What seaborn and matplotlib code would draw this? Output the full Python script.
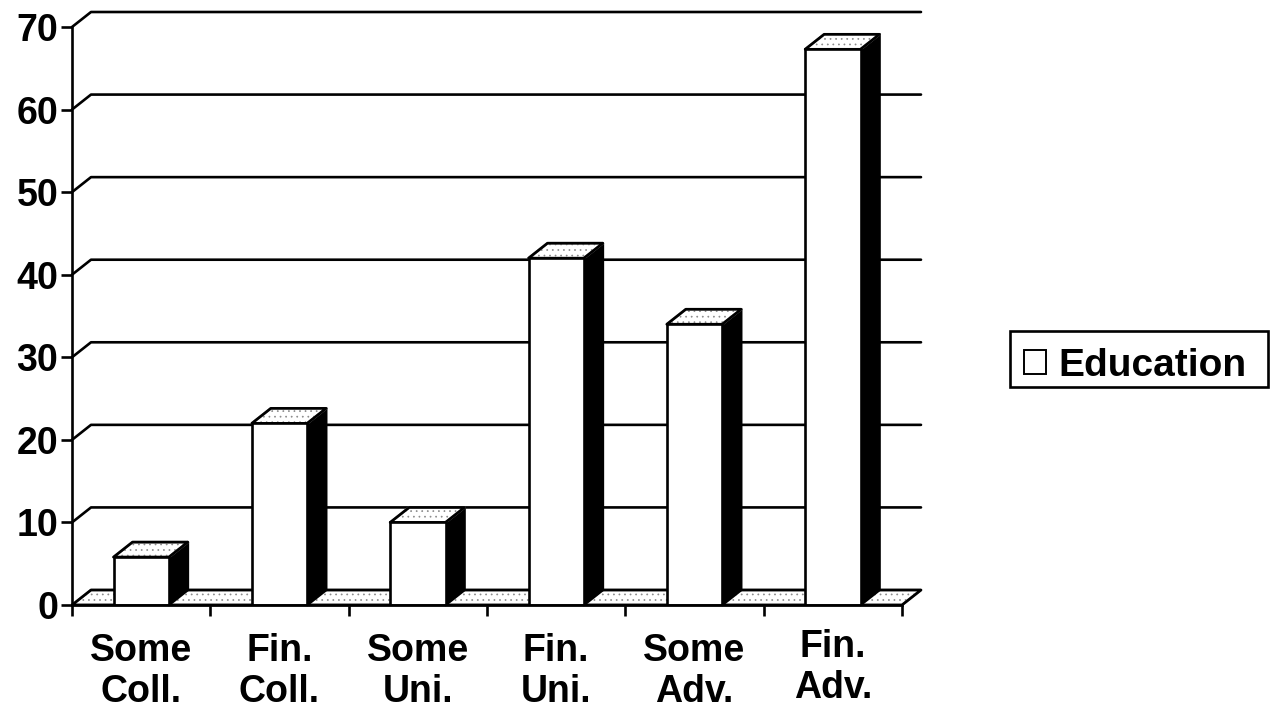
import matplotlib
matplotlib.use("Agg")
import matplotlib.pyplot as plt
import matplotlib.transforms as mtrans
from matplotlib.patches import Patch, Polygon, Rectangle
import pandas
import seaborn

CATEGORIES = ["Some\nColl.", "Fin.\nColl.", "Some\nUni.", "Fin.\nUni.", "Some\nAdv.", "Fin.\nAdv."]
VALUES = [5.8, 22, 10, 42, 34, 67.3]
Y_TICKS = [0, 10, 20, 30, 40, 50, 60, 70]
SERIES = "Education"

# 3d look of the old spreadsheet chart, depth in pixels
DEPTH_X = 19
DEPTH_Y = 15
LW = 1.9
W, H = 1274, 713

seaborn.set_style("white")
plt.rcParams["font.family"] = ["Liberation Sans", "DejaVu Sans"]
plt.rcParams["font.weight"] = "bold"
plt.rcParams["text.color"] = "black"
plt.rcParams["xtick.labelcolor"] = "black"
plt.rcParams["ytick.labelcolor"] = "black"
plt.rcParams["hatch.linewidth"] = 0.5

fig = plt.figure(figsize=(W / 100, H / 100), dpi=100)
ax = fig.add_axes([72 / W, 1 - 605 / H, (902 - 72) / W, (605 - 27) / H])

df = pandas.DataFrame({"group": CATEGORIES, "value": VALUES})
seaborn.barplot(df, x="group", y="value", color="white", saturation=1, width=0.4,
                edgecolor="black", linewidth=LW, errorbar=None, ax=ax, zorder=5)
ax.set_xlim(-0.5, 5.5)
ax.set_ylim(0, 70)

# pixels to data units for the depth offset
dx = DEPTH_X * 6 / (902 - 72)
dy = DEPTH_Y * 70 / (605 - 27)


def add_poly(points, face, z, hatch=None, edge="black"):
    ax.add_patch(Polygon(points, closed=True, facecolor=face, edgecolor=edge,
                         linewidth=LW, hatch=hatch, zorder=z, clip_on=False, joinstyle="round"))


# floor, speckle is grey so it stays light, outline drawn on top
floor = [(-0.5, 0), (5.5, 0), (5.5 + dx, dy), (-0.5 + dx, dy)]
add_poly(floor, "white", 1, "...", "#8a8a8a")
add_poly(floor, "none", 1.1)

# back wall lines
for v in Y_TICKS[1:]:
    ax.plot([-0.5, -0.5 + dx, 5.5 + dx], [v, v + dy, v + dy], color="black", lw=LW,
            zorder=2, clip_on=False, solid_joinstyle="round")

# bar tops and sides
for bar in ax.patches[:len(VALUES)]:
    x0, x1 = bar.get_x(), bar.get_x() + bar.get_width()
    h = bar.get_height()
    top = [(x0, h), (x1, h), (x1 + dx, h + dy), (x0 + dx, h + dy)]
    add_poly([(x1, 0), (x1 + dx, dy), (x1 + dx, h + dy), (x1, h)], "black", 4)
    add_poly(top, "white", 4, "...", "#8a8a8a")
    add_poly(top, "none", 4.1)

seaborn.despine(ax=ax, top=True, right=True)
for side in ["left", "bottom"]:
    ax.spines[side].set_linewidth(LW)
    ax.spines[side].set_color("black")
    ax.spines[side].set_zorder(6)

ax.set_xlabel("")
ax.set_ylabel("")
ax.set_yticks(Y_TICKS)
ax.set_xticks([i - 0.5 for i in range(len(CATEGORIES) + 1)], minor=True)
ax.set_xticks(range(len(CATEGORIES)), CATEGORIES)
ax.tick_params(axis="x", which="major", length=0, pad=20, labelsize=27)
ax.tick_params(axis="x", which="minor", length=8, width=LW, color="black", bottom=True)
ax.tick_params(axis="y", length=8, width=LW, color="black", left=True, pad=2, labelsize=27)
for label in ax.get_xticklabels():
    label.set_linespacing(1.2)
# last label sits a little higher in the original
last = ax.get_xticklabels()[-1]
last.set_transform(last.get_transform() + mtrans.ScaledTranslation(0, 3 / 72, fig.dpi_scale_trans))

# legend box is wider on the right than a legend frame allows, so draw it apart
fig.add_artist(Rectangle((1010 / W, 1 - 387 / H), 258 / W, 56 / H, transform=fig.transFigure,
                         facecolor="white", edgecolor="black", linewidth=LW))
handle = Patch(facecolor="white", edgecolor="black", linewidth=1.4)
leg = fig.legend([handle], [SERIES], loc="center left", bbox_to_anchor=(1024 / W, 1 - 366 / H),
                 fontsize=28, frameon=False, handlelength=0.56, handleheight=0.56,
                 handletextpad=0.33, borderpad=0, borderaxespad=0)

fig.savefig("out.png", dpi=100)
